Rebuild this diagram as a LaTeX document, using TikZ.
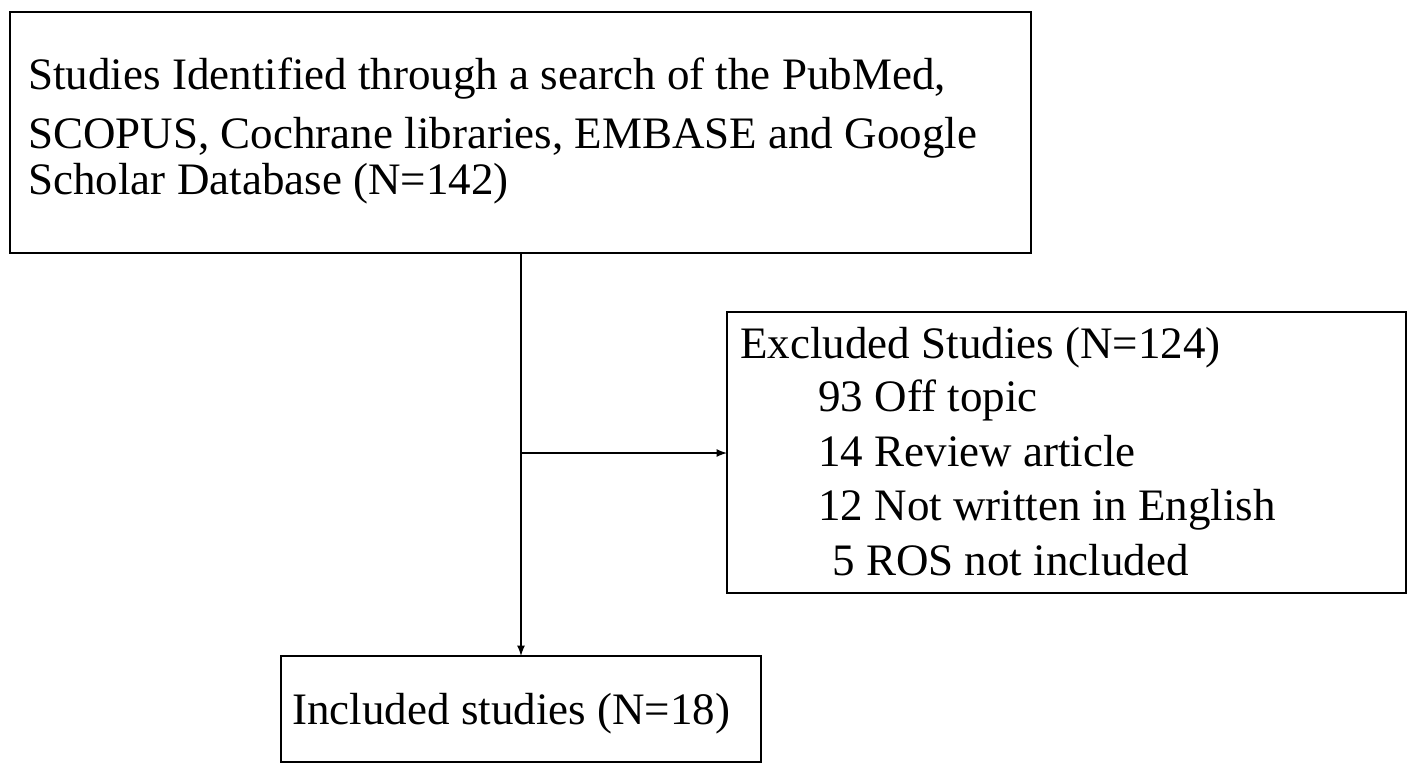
\documentclass[tikz,border=0pt]{standalone}
\usepackage{fontspec}
\setmainfont{Liberation Serif}
\begin{document}
\begin{tikzpicture}[x=0.5pt,y=-0.5pt,
  box/.style={draw,line width=1.2pt},
  txt/.style={anchor=base west,inner sep=0pt,font=\fontsize{22.5pt}{26pt}\selectfont,align=left},
  arr/.style={-latex,line width=0.8pt}]
\useasboundingbox (0,0) rectangle (1417,772);
\draw[box] (10,12) rectangle (1031,253);
\node[txt] (t1) at (28,89) {Studies Identified through a search of the PubMed,};
\node[txt] (t2) at (28,148) {SCOPUS, Cochrane libraries, EMBASE and Google};
\node[txt] (t3) at (28,194) {Scholar Database (N=142)};
\coordinate (top) at (521,253);
\draw[box] (727,312) rectangle (1406,593);
\coordinate (exl) at (727,453);
\node[txt] (e1) at (740,358) {Excluded Studies (N=124)};
\node[txt] (e2) at (818,411) {93 Off topic};
\node[txt] (e3) at (818,466) {14 Review article};
\node[txt] (e4) at (818,520) {12 Not written in English};
\node[txt] (e5) at (832,575) {5 ROS not included};
\draw[box] (281,656) rectangle (761,762);
\coordinate (inc) at (521,656);
\node[txt] (i1) at (292,724) {Included studies (N=18)};
\coordinate (br) at (521,453);
\draw[arr] (top) -- (inc);
\draw[arr] (br) -- (exl);
\end{tikzpicture}
\end{document}
